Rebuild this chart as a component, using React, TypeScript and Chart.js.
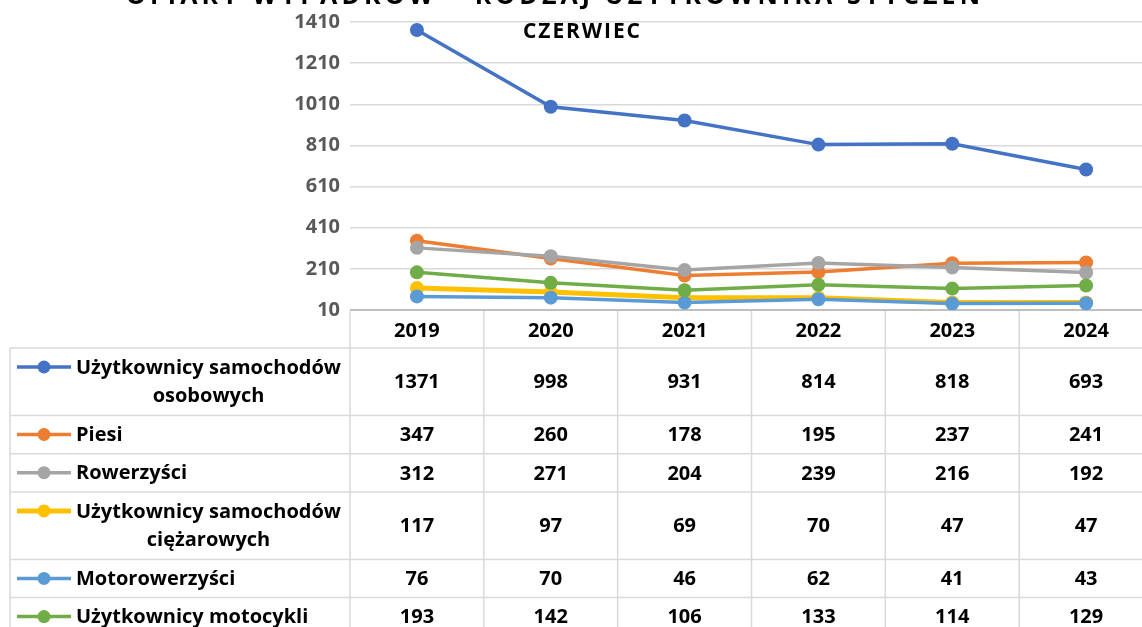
import React, { useEffect, useRef } from "react";
import { Chart, registerables } from "chart.js";

Chart.register(...registerables);

// ---- data ----
const years = ["2019", "2020", "2021", "2022", "2023", "2024"];
const labelLines: string[][] = [
  ["Użytkownicy samochodów", "osobowych"],
  ["Piesi"],
  ["Rowerzyści"],
  ["Użytkownicy samochodów", "ciężarowych"],
  ["Motorowerzyści"],
  ["Użytkownicy motocykli"],
];
const osobowe = [1371, 998, 931, 814, 818, 693];
const piesi = [347, 260, 178, 195, 237, 241];
const rowerzysci = [312, 271, 204, 239, 216, 192];
const ciezarowe = [117, 97, 69, 70, 47, 47];
const motorowerzysci = [76, 70, 46, 62, 41, 43];
const motocykle = [193, 142, 106, 133, 114, 129];
const seriesValues = [osobowe, piesi, rowerzysci, ciezarowe, motorowerzysci, motocykle];
const seriesColors = ["#4472C4", "#ED7D31", "#A5A5A5", "#FFC000", "#5B9BD5", "#70AD47"];
const yTicks = [10, 210, 410, 610, 810, 1010, 1210, 1410];
const titleLine1 = "OFIARY WYPADKÓW – RODZAJ UŻYTKOWNIKA STYCZEŃ –";
const titleLine2 = "CZERWIEC";

const FONT = "'Open Sans'";
const W = 1160;
const H = 627;

function spacedText(ctx: CanvasRenderingContext2D, text: string, x: number, y: number, targetW: number, visibleChars: number) {
  (ctx as any).letterSpacing = "0px";
  const base = ctx.measureText(text.slice(0, visibleChars)).width;
  const sp = (targetW - base) / Math.max(1, visibleChars - 1);
  (ctx as any).letterSpacing = `${sp}px`;
  ctx.fillText(text, x, y);
  (ctx as any).letterSpacing = "0px";
}

const titlePlugin = {
  id: "titleDraw",
  afterDraw(chart: any) {
    const ctx = chart.ctx as CanvasRenderingContext2D;
    ctx.save();
    ctx.fillStyle = "#000000";
    ctx.textBaseline = "alphabetic";
    ctx.textAlign = "left";
    ctx.font = `bold 25px ${FONT}`;
    spacedText(ctx, titleLine1, 126, 4, 980 - 126, titleLine1.length - 2);
    ctx.font = `bold 21px ${FONT}`;
    spacedText(ctx, titleLine2, 523, 38, 640 - 523, titleLine2.length);
    ctx.restore();
  },
};

const tablePlugin = {
  id: "dataTable",
  afterDraw(chart: any) {
    const ctx = chart.ctx as CanvasRenderingContext2D;
    const xs = chart.scales.x;
    const area = chart.chartArea;
    const n = years.length;
    const colW = (area.right - area.left) / n;
    const headerTop = area.bottom + 1;
    const tableTop = 348;
    const singleRow = 38.2;
    const extraLine = 29.3;
    const rowTops: number[] = [];
    let y = tableTop;
    labelLines.forEach((lines) => {
      rowTops.push(y);
      y += singleRow + extraLine * (lines.length - 1);
    });
    const tableBottom = y;
    const left = 10;
    const right = W;

    ctx.save();
    ctx.strokeStyle = "#d9d9d9";
    ctx.lineWidth = 1.5;
    ctx.beginPath();
    rowTops.forEach((t) => {
      ctx.moveTo(left, t);
      ctx.lineTo(right, t);
    });
    ctx.moveTo(left, tableBottom);
    ctx.lineTo(right, tableBottom);
    for (let i = 0; i <= n; i++) {
      const x = area.left + i * colW;
      ctx.moveTo(x, headerTop);
      ctx.lineTo(x, tableBottom);
    }
    ctx.moveTo(left, tableTop);
    ctx.lineTo(left, tableBottom);
    ctx.stroke();

    ctx.fillStyle = "#000000";
    ctx.font = `bold 20px ${FONT}`;
    ctx.textAlign = "center";
    ctx.textBaseline = "middle";
    years.forEach((yr, i) => {
      ctx.fillText(yr, xs.getPixelForValue(i), (headerTop + tableTop) / 2 + 2);
    });

    labelLines.forEach((lines, r) => {
      const top = rowTops[r];
      const h = singleRow + extraLine * (lines.length - 1);
      const l1y = top + 19;
      ctx.strokeStyle = seriesColors[r];
      ctx.lineWidth = r === 3 ? 5 : 3.5;
      ctx.beginPath();
      ctx.moveTo(17, l1y);
      ctx.lineTo(71, l1y);
      ctx.stroke();
      ctx.fillStyle = seriesColors[r];
      ctx.beginPath();
      ctx.arc(44, l1y, 6.5, 0, Math.PI * 2);
      ctx.fill();
      ctx.fillStyle = "#000000";
      ctx.textAlign = "left";
      const w1 = ctx.measureText(lines[0]).width;
      ctx.fillText(lines[0], 76, l1y + 1);
      for (let k = 1; k < lines.length; k++) {
        ctx.textAlign = "center";
        ctx.fillText(lines[k], 76 + w1 / 2, l1y + extraLine * k);
      }
      ctx.textAlign = "center";
      seriesValues[r].forEach((v, i) => {
        ctx.fillText(String(v), xs.getPixelForValue(i), top + h / 2 + 1);
      });
    });
    ctx.restore();
  },
};

export default function App() {
  const ref = useRef<HTMLCanvasElement | null>(null);

  useEffect(() => {
    document.body.style.margin = "0";
    const canvas = ref.current!;
    const chart = new Chart(canvas, {
      type: "line",
      data: {
        labels: years,
        datasets: seriesValues.map((vals, i) => ({
          label: labelLines[i].join(" "),
          data: vals,
          borderColor: seriesColors[i],
          backgroundColor: seriesColors[i],
          pointBackgroundColor: seriesColors[i],
          pointBorderWidth: 0,
          pointRadius: 7,
          borderWidth: i === 3 ? 5 : 3.5,
          order: seriesValues.length - i,
          tension: 0,
        })),
      },
      options: {
        animation: false,
        responsive: false,
        devicePixelRatio: 1,
        layout: { padding: { top: 21, bottom: H - 310, left: 0, right: W - 1155 } },
        plugins: {
          legend: { display: false },
          tooltip: { enabled: false },
          title: { display: false },
        },
        scales: {
          x: { type: "category", offset: true, display: false },
          y: {
            min: 10,
            max: 1410,
            afterBuildTicks: (s: any) => {
              s.ticks = yTicks.map((v) => ({ value: v }));
            },
            afterFit: (s: any) => {
              s.width = 350;
            },
            border: { display: false },
            grid: {
              drawTicks: false,
              color: (c: any) => (c.tick && c.tick.value === 10 ? "#bfbfbf" : "#d9d9d9"),
              lineWidth: (c: any) => (c.tick && c.tick.value === 10 ? 2 : 1.5),
            },
            ticks: {
              padding: 10,
              color: "#595959",
              font: { family: "Open Sans", size: 20, weight: "bold" },
              callback: (v: any) => String(v),
            },
          },
        },
      },
      plugins: [titlePlugin, tablePlugin],
    } as any);
    return () => chart.destroy();
  }, []);

  return (
    <div style={{ position: "absolute", left: 0, top: 0, width: 1142, height: 627, overflow: "hidden", background: "#fff" }}>
      <canvas ref={ref} width={W} height={H} style={{ width: W, height: H, display: "block" }} />
    </div>
  );
}
